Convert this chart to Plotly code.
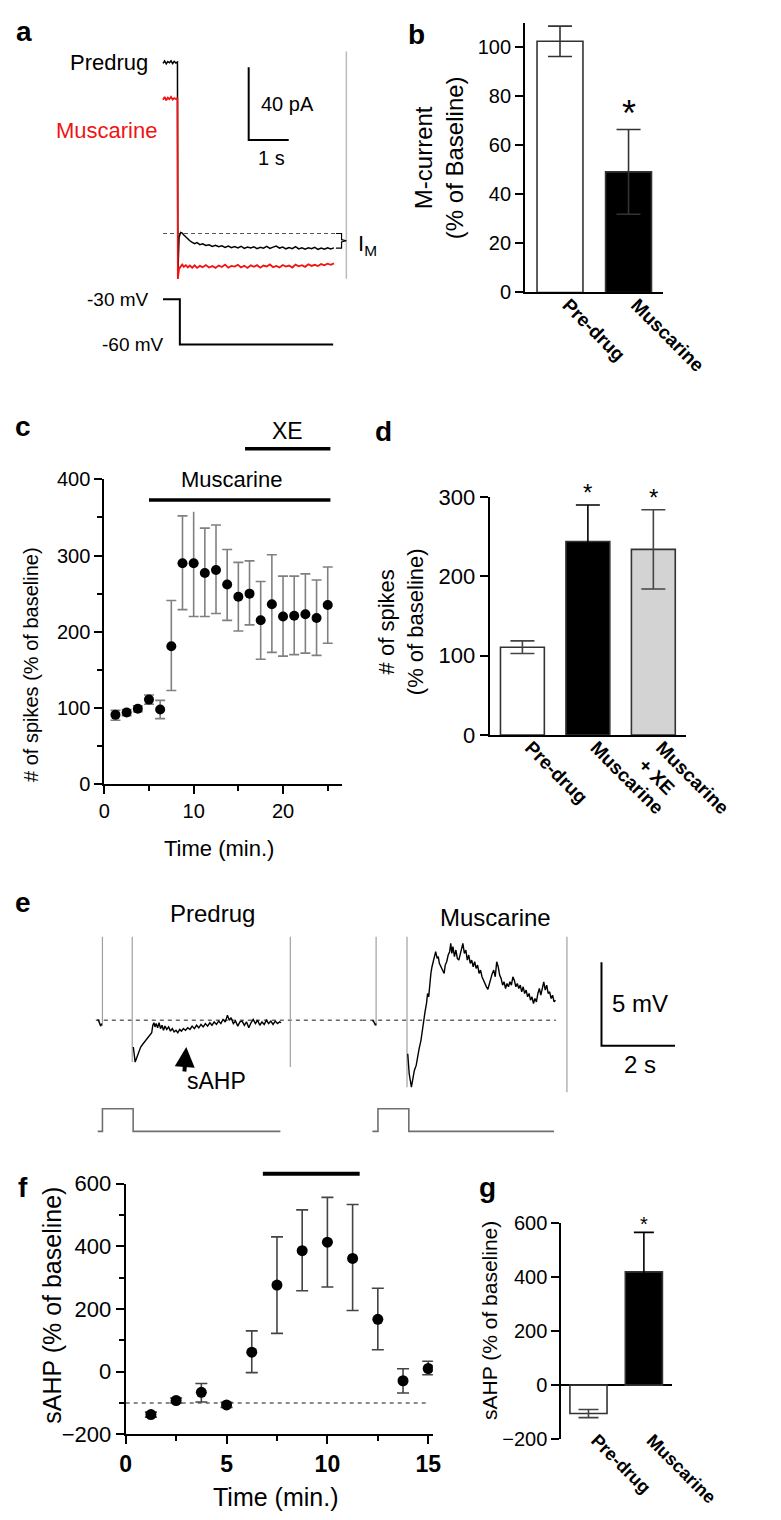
import plotly.graph_objects as go

FONT = "Liberation Sans, Arial, sans-serif"
W, H = 781, 1520

# ---------------- data ----------------
# a: whole-cell current, time (s) from the step to -60 mV, current (pA) relative to the -60 mV baseline
a_time = [-0.37, -0.33, -0.29, -0.25, -0.21, -0.17, -0.13, -0.09, -0.05, -0.01,
          0.0, 0.03, 0.07, 0.11, 0.15, 0.2, 0.25, 0.3, 0.36, 0.42, 0.48, 0.55, 0.62,
          0.7, 0.78, 0.86, 0.94, 1.02, 1.1, 1.18, 1.26, 1.34, 1.42,
          1.5, 1.58, 1.66, 1.74, 1.82, 1.9, 1.98, 2.06, 2.14, 2.22,
          2.3, 2.38, 2.46, 2.54, 2.62, 2.7, 2.78, 2.86, 2.94, 3.02,
          3.1, 3.18, 3.26, 3.34, 3.42, 3.5, 3.58, 3.66, 3.74, 3.82, 3.9]
a_predrug = [93.5, 94.8, 93.2, 94.5, 93.8, 94.9, 93.4, 94.6, 93.7, 94.2,
             -24.0, -2.0, 0.6, 0.2, -0.8, -1.9, -3.2, -4.0, -4.9, -5.6, -5.0, -6.1, -5.7,
             -6.6, -6.2, -7.1, -6.5, -7.3, -6.8, -7.6, -6.9, -7.8, -7.2,
             -7.9, -7.0, -8.2, -7.4, -8.0, -7.3, -8.3, -7.6, -8.1, -7.1,
             -8.2, -7.5, -6.9, -8.0, -7.4, -8.4, -7.7, -8.3, -7.2, -8.5,
             -7.8, -8.6, -7.9, -8.4, -7.6, -8.7, -8.0, -8.6, -7.8, -8.5, -7.9]
a_muscarine = [73.5, 75.0, 73.2, 74.6, 73.8, 75.1, 73.6, 74.4, 73.9, 74.5,
               -25.0, -19.5, -18.2, -17.0, -18.3, -17.4, -18.6, -17.6, -18.8, -17.5, -18.9, -17.8, -18.5,
               -17.3, -18.7, -17.9, -18.9, -17.6, -18.4, -17.1, -18.8, -17.8, -18.2,
               -17.2, -18.6, -17.7, -18.9, -17.5, -18.3, -17.4, -18.8, -17.6, -18.1,
               -17.0, -18.5, -17.8, -18.6, -17.3, -18.2, -17.6, -18.7, -17.1, -18.0,
               -17.4, -18.3, -16.9, -17.8, -17.2, -17.9, -16.8, -17.5, -16.6, -17.2, -16.4]
a_im_pa = 8.0                      # M-current amplitude marked by the bracket
a_marker_t = 4.21                  # grey time marker
a_marker_pa = [100.0, -24.9]
a_vstep_t = [-0.37, 0.05, 0.05, 3.88]
a_vstep_mv = [-30, -30, -60, -60]

# b: M-current
b_groups = ["Pre-drug", "Muscarine"]
b_mean = [102.5, 49.2]
b_sem = [6.2, 17.3]

# c: spikes time course
c_time = [1.25, 2.5, 3.75, 5.0, 6.25, 7.5, 8.75, 10.0, 11.25, 12.5,
          13.75, 15.0, 16.25, 17.5, 18.75, 20.0, 21.25, 22.5, 23.75, 25.0]
c_mean = [91, 94, 99, 111, 98, 181, 290, 290, 277, 281,
          262, 246, 250, 215, 236, 220, 221, 223, 218, 235]
c_err_up = [6, 4, 4, 6, 12, 60, 62, 70, 59, 59, 46, 45, 43, 51, 65, 53, 52, 53, 50, 50]
c_err_down = [7, 4, 4, 6, 12, 58, 61, 70, 57, 57, 47, 45, 41, 51, 63, 52, 51, 51, 49, 50]
c_muscarine_on = [5.0, 25.3]
c_xe_on = [15.75, 25.3]

# d: spikes summary
d_groups = ["Pre-drug", "Muscarine", "Muscarine<br>+ XE"]
d_mean = [110.7, 244, 234]
d_sem = [8, 46, 50]

# e: sAHP traces, time (s) from the current step, membrane potential (mV) from rest
e_pre_t = [-0.13, -0.09, -0.05, -0.02, None,
           0.84, 0.89, 0.94, 0.99, 1.04, 1.09, 1.14, 1.19, 1.24, 1.29, 1.34, 1.37, 1.4, 1.43,
           1.46, 1.5, 1.54, 1.58, 1.62, 1.66, 1.7, 1.75, 1.8, 1.85, 1.9, 1.95, 2.0, 2.05,
           2.1, 2.15, 2.2, 2.26, 2.32, 2.38, 2.44, 2.5, 2.56, 2.62, 2.68, 2.74, 2.8, 2.86,
           2.92, 2.98, 3.04, 3.1, 3.16, 3.22, 3.28, 3.34, 3.4, 3.45, 3.5, 3.56, 3.62, 3.68,
           3.74, 3.8, 3.86, 3.92, 3.98, 4.04, 4.1, 4.16, 4.22, 4.28, 4.34, 4.4, 4.46, 4.52,
           4.58, 4.64, 4.7, 4.76, 4.82, 4.86]
e_pre_mv = [0.05, -0.1, -0.35, -0.2, None,
            -1.6, -2.5, -2.2, -1.9, -1.6, -1.45, -1.3, -1.2, -1.0, -0.9, -0.75, -0.3, -0.15, -0.4,
            -0.2, -0.45, -0.15, -0.5, -0.3, -0.6, -0.35, -0.55, -0.4, -0.65, -0.5, -0.7, -0.6, -0.75,
            -0.55, -0.65, -0.5, -0.6, -0.45, -0.55, -0.35, -0.5, -0.3, -0.45, -0.25, -0.4, -0.2, -0.35,
            -0.15, -0.3, -0.1, -0.25, -0.05, -0.2, 0.05, -0.1, 0.3, 0.0, 0.15, -0.2, -0.05, -0.35,
            -0.1, -0.05, -0.3, -0.1, -0.45, -0.15, 0.05, -0.2, 0.0, -0.3, -0.1, -0.25, 0.0, -0.2,
            -0.05, -0.25, -0.05, -0.2, -0.1, -0.15]
e_mus_t = [-0.1, -0.06, -0.02, 0.0, None,
           0.86, 0.9, 0.96, 1.0, 1.04, 1.09, 1.13, 1.17, 1.22, 1.26, 1.29, 1.33, 1.37, 1.4,
           1.43, 1.46, 1.49, 1.52, 1.55, 1.58, 1.62, 1.66, 1.69, 1.72, 1.76, 1.8, 1.85, 1.88,
           1.92, 1.96, 2.0, 2.03, 2.06, 2.09, 2.13, 2.17, 2.21, 2.25, 2.29, 2.33, 2.36, 2.4,
           2.44, 2.48, 2.52, 2.56, 2.6, 2.64, 2.68, 2.72, 2.76, 2.8, 2.84, 2.88, 2.92, 2.96,
           3.0, 3.04, 3.08, 3.12, 3.16, 3.2, 3.24, 3.28, 3.32, 3.36, 3.4, 3.44, 3.48, 3.52,
           3.56, 3.6, 3.64, 3.68, 3.72, 3.76, 3.8, 3.84, 3.88, 3.92, 3.96, 4.0, 4.04, 4.08,
           4.12, 4.16, 4.2, 4.24, 4.28, 4.32, 4.36, 4.4, 4.44, 4.48, 4.52, 4.56, 4.6, 4.64,
           4.68, 4.72, 4.76, 4.8, 4.84, 4.88]
e_mus_mv = [0.0, -0.1, -0.3, -0.2, None,
            -2.0, -3.2, -4.0, -3.4, -3.0, -2.7, -2.1, -1.7, -1.2, -0.5, 0.0, 0.5, 1.0, 1.6,
            1.4, 2.3, 2.8, 3.2, 3.5, 3.9, 4.1, 3.7, 3.8, 3.4, 3.2, 3.0, 2.8, 3.3,
            3.5, 3.9, 4.1, 4.6, 4.0, 4.4, 3.8, 4.2, 3.7, 3.6, 4.0, 4.3, 4.6, 4.0,
            4.2, 3.6, 3.9, 3.4, 3.6, 3.2, 3.5, 3.1, 3.3, 2.8, 3.0, 2.6, 2.4, 2.1,
            2.0, 1.85, 2.2, 2.4, 2.8, 3.0, 2.6, 3.5, 3.2, 2.7, 2.5, 2.1, 2.3, 1.9,
            2.2, 2.0, 2.3, 2.1, 2.6, 2.4, 2.0, 2.2, 1.9, 2.1, 1.7, 2.0, 1.6, 1.8,
            1.4, 1.6, 1.2, 1.4, 1.0, 1.3, 1.1, 1.6, 1.9, 1.5, 2.0, 2.3, 1.8, 2.1,
            1.6, 1.7, 1.3, 1.5, 1.1, 1.2]
e_pre_artifact_t = [0.0, 0.81, 5.11]
e_pre_artifact_low = [-0.35, -2.5, -2.8]
e_mus_artifact_t = [0.0, 0.84, 5.19]
e_mus_artifact_low = [-0.35, -4.0, -4.3]
e_artifact_high = 5.0
e_pre_stim_t = [-0.13, 0.0, 0.0, 0.835, 0.835, 4.84]
e_mus_stim_t = [-0.1, 0.05, 0.05, 0.89, 0.89, 4.84]
e_stim_lvl = [0, 0, 1, 1, 0, 0]
e_sahp_tip = (2.28, -1.6)          # arrow tip (s, mV)

# f: sAHP time course
f_time = [1.25, 2.5, 3.75, 5.0, 6.25, 7.5, 8.75, 10.0, 11.25, 12.5, 13.75, 15.0]
f_mean = [-137, -92, -66, -106, 62, 276, 386, 413, 361, 167, -29, 10]
f_err_up = [8, 8, 28, 8, 68, 154, 130, 143, 172, 99, 38, 23]
f_err_down = [8, 8, 31, 8, 65, 154, 128, 143, 166, 97, 39, 20]
f_muscarine_on = [6.8, 11.6]
f_baseline = -100

# g: sAHP summary
g_groups = ["Pre-drug", "Muscarine"]
g_mean = [-105, 419]
g_sem = [15, 146]


# ---------------- helpers ----------------
def xdom(a, b):
    return [a / W, b / W]


def ydom(top, bot):
    return [1 - bot / H, 1 - top / H]


AX = dict(showline=True, linecolor="black", linewidth=2, ticks="outside", ticklen=8,
          tickwidth=2, tickcolor="black", showgrid=False, zeroline=False, fixedrange=True,
          tickfont=dict(family=FONT, size=20, color="black"))
HIDDEN = dict(visible=False, fixedrange=True)
MINOR = dict(ticklen=5, tickwidth=2, tickcolor="black", ticks="outside")

layout = dict(width=W, height=H, margin=dict(l=0, r=0, t=0, b=0),
              paper_bgcolor="white", plot_bgcolor="white", showlegend=False,
              font=dict(family=FONT, color="black"))
annotations = []
fig = go.Figure()


def axes(n, xd, yd, xr, yr, xkw, ykw):
    k = "" if n == 1 else str(n)
    layout["xaxis" + k] = dict(domain=xd, range=xr, anchor="y" + k, **xkw)
    layout["yaxis" + k] = dict(domain=yd, range=yr, anchor="x" + k, **ykw)


def ref(n):
    k = "" if n == 1 else str(n)
    return "x" + k, "y" + k


def line(n, x, y, color="black", width=1.5, dash=None):
    xa, ya = ref(n)
    fig.add_trace(go.Scatter(x=x, y=y, mode="lines", xaxis=xa, yaxis=ya, hoverinfo="skip",
                             line=dict(color=color, width=width, dash=dash)))


def text(t, x, y, size, n=None, **kw):
    if n is None:
        d = dict(xref="paper", yref="paper", x=x / W, y=1 - y / H)
    else:
        xa, ya = ref(n)
        d = dict(xref=xa, yref=ya, x=x, y=y)
    d.update(text=t, showarrow=False, xanchor="center", yanchor="middle",
             font=dict(family=FONT, size=size, color=kw.pop("color", "black")))
    d.update(kw)
    annotations.append(d)


def bars(n, mean, sem, colors, errcolors, cap):
    xa, ya = ref(n)
    for i, (m, s) in enumerate(zip(mean, sem)):
        fig.add_trace(go.Bar(x=[i], y=[m], width=0.67, xaxis=xa, yaxis=ya,
                             marker=dict(color=colors[i], line=dict(color="#333", width=1.6)),
                             error_y=dict(type="data", array=[s], color=errcolors[i], thickness=1.6, width=cap),
                             hoverinfo="skip"))


def cat_axis(labels, size):
    return dict(AX, ticks="", tickvals=list(range(len(labels))),
                ticktext=["<b>%s</b>" % g for g in labels], tickangle=45,
                ticklabelstandoff=-8, ticklabelshift=8,
                tickfont=dict(family=FONT, size=size, color="black"))


# ---------------- a ----------------
axes(1, xdom(40, 400), ydom(30, 270), [-3.163, 5.209], [-28.6, 101.1], HIDDEN, HIDDEN)
axes(2, xdom(40, 400), ydom(272, 345), [-3.163, 5.209], [-69.8, -22.2], HIDDEN, HIDDEN)
line(1, [a_time[0], 3.93], [0, 0], color="#555", width=1.2, dash="4px,3px")
line(1, [a_marker_t, a_marker_t], a_marker_pa, color="#bbbbbb", width=1.5)
line(1, a_time, a_predrug, color="black", width=1.5)
line(1, a_time, a_muscarine, color="#f01414", width=1.8)
bx0, bx1 = 3.95, 4.09
line(1, [bx0, bx1, bx1, bx1 + 0.12, bx1, bx1, bx0],
     [0, 0, -a_im_pa / 2 + 0.6, -a_im_pa / 2, -a_im_pa / 2 - 0.6, -a_im_pa, -a_im_pa], width=1.2)
# scale bar 40 pA / 1 s
sb_t, sb_pa = 1.77, 51.4
line(1, [sb_t, sb_t, sb_t + 1], [sb_pa + 40, sb_pa, sb_pa], width=2)
text("40 pA", 2.02, 71.4, 20, n=1, xanchor="left")
text("1 s", 2.35, 41.6, 20, n=1)
text("Predrug", -0.7, 94, 22, n=1, xanchor="right")
text("Muscarine", -1.77, 56.8, 22, n=1, color="#f01414")
text("I<sub>M</sub>", 4.45, -6.5, 22, n=1, xanchor="left")
line(2, a_vstep_t, a_vstep_mv, width=2)
text("-30 mV", -0.67, -30, 19, n=2, xanchor="right")
text("-60 mV", -0.3, -60, 19, n=2, xanchor="right")

# ---------------- b ----------------
axes(3, xdom(549, 697), ydom(3, 277), [-0.51, 1.5], [0, 110],
     cat_axis(b_groups, 19), dict(AX, tickvals=[0, 20, 40, 60, 80, 100]))
bars(3, b_mean, b_sem, ["white", "black"], ["#333", "#333"], 12)
text("*", 1, b_mean[1] + b_sem[1], 36, n=3, yshift=16)
text("M-current<br>(% of Baseline)", 456, 140, 24, textangle=-90)

# ---------------- c ----------------
axes(4, xdom(97, 352), ydom(467, 777), [0, 26.56], [0, 400],
     dict(AX, tickvals=[0, 10, 20], minor=dict(MINOR, tickvals=[5, 15, 25])),
     dict(AX, tickvals=[0, 100, 200, 300, 400], minor=dict(MINOR, tickvals=[50, 150, 250, 350])))
axes(5, xdom(97, 352), ydom(400, 500), [0, 26.56], [0, 1], HIDDEN, HIDDEN)
fig.add_trace(go.Scatter(x=c_time, y=c_mean, mode="markers", xaxis="x4", yaxis="y4", hoverinfo="skip",
                         marker=dict(color="black", size=10),
                         error_y=dict(type="data", array=c_err_up, arrayminus=c_err_down,
                                      color="#808080", thickness=1.6, width=5)))
line(5, c_muscarine_on, [0.12, 0.12], width=3.5)
line(5, c_xe_on, [0.64, 0.64], width=3.5)
text("Muscarine", sum(c_muscarine_on) / 2, 0.12, 22, n=5, yshift=20, xshift=-8)
text("XE", sum(c_xe_on) / 2, 0.64, 23, n=5, yshift=18)
text("# of spikes (% of baseline)", 18, 655, 20, textangle=-90)
text("Time (min.)", 220, 842, 22)

# ---------------- d ----------------
axes(6, xdom(511, 722), ydom(485, 727), [-0.5, 2.5], [0, 300],
     cat_axis(d_groups, 19),
     dict(AX, tickvals=[0, 100, 200, 300], tickfont=dict(family=FONT, size=22, color="black")))
bars(6, d_mean, d_sem, ["white", "black", "#d3d3d3"], ["#444", "black", "#444"], 12)
for i in (1, 2):
    text("*", i, d_mean[i] + d_sem[i], 24, n=6, yshift=12)
text("# of spikes<br>(% of baseline)", 416, 612, 22, textangle=-90)

# ---------------- e ----------------
e_yr = [-4.59, 5.41]
axes(7, xdom(80, 374), ydom(925, 1095), [-0.38, 7.063], e_yr, HIDDEN, HIDDEN)
axes(8, xdom(374, 720), ydom(925, 1095), [-0.38, 8.38], e_yr, HIDDEN, HIDDEN)
axes(9, xdom(80, 374), ydom(1100, 1140), [-0.38, 7.063], [-0.435, 1.304], HIDDEN, HIDDEN)
axes(10, xdom(374, 720), ydom(1100, 1140), [-0.38, 8.38], [-0.435, 1.304], HIDDEN, HIDDEN)
line(7, [-0.18, 7.063], [0, 0], color="#666", width=1.5, dash="4px,4px")
line(8, [-0.38, 4.89], [0, 0], color="#666", width=1.5, dash="4px,4px")
for n, ts, lows in ((7, e_pre_artifact_t, e_pre_artifact_low), (8, e_mus_artifact_t, e_mus_artifact_low)):
    xs, ys = [], []
    for t, lo in zip(ts, lows):
        xs += [t, t, None]
        ys += [e_artifact_high, lo, None]
    line(n, xs, ys, color="#a0a0a0", width=1.2)
line(7, e_pre_t, e_pre_mv, width=1.4)
line(8, e_mus_t, e_mus_mv, width=1.4)
line(9, e_pre_stim_t, e_stim_lvl, color="#707070", width=1.6)
line(10, e_mus_stim_t, e_stim_lvl, color="#707070", width=1.6)
# scale bar 5 mV / 2 s
sb_t, sb_mv = 6.13, -1.53
line(8, [sb_t, sb_t, sb_t + 2], [sb_mv + 5, sb_mv, sb_mv], width=2)
text("5 mV", 7.18, 1.0, 24, n=8)
text("2 s", 7.18, -2.65, 24, n=8)
annotations.append(dict(xref="x7", yref="y7", x=e_sahp_tip[0], y=e_sahp_tip[1], ax=-2, ay=26, text="",
                        showarrow=True, arrowhead=2, arrowwidth=4, arrowsize=1.0, arrowcolor="black"))
text("sAHP", 3.09, -3.62, 23, n=7)
text("Predrug", 213, 908, 24)
text("Muscarine", 517, 913, 24)

# ---------------- f ----------------
axes(11, xdom(120, 450), ydom(1183, 1438), [0, 15.23], [-200, 600],
     dict(AX, tickvals=[0, 5, 10, 15], ticktext=["<b>%d</b>" % v for v in (0, 5, 10, 15)],
          tickfont=dict(family=FONT, size=23, color="black"),
          minor=dict(MINOR, tickvals=[2.5, 7.5, 12.5])),
     dict(AX, tickvals=[-200, 0, 200, 400, 600], tickfont=dict(family=FONT, size=22, color="black"),
          minor=dict(MINOR, tickvals=[-100, 100, 300, 500])))
axes(12, xdom(120, 450), ydom(1163, 1183), [0, 15.23], [0, 1], HIDDEN, HIDDEN)
line(11, [0, 15], [f_baseline, f_baseline], color="#666", width=1.5, dash="4px,4px")
fig.add_trace(go.Scatter(x=f_time, y=f_mean, mode="markers", xaxis="x11", yaxis="y11", hoverinfo="skip",
                         marker=dict(color="black", size=11),
                         error_y=dict(type="data", array=f_err_up, arrayminus=f_err_down,
                                      color="#444", thickness=1.6, width=6)))
line(12, f_muscarine_on, [0.5, 0.5], width=4)
text("sAHP (% of baseline)", 40, 1307, 25, textangle=-90)
text("Time (min.)", 281, 1502, 25)

# ---------------- g ----------------
axes(13, xdom(588, 707), ydom(1223, 1443), [-0.49, 1.51], [-200, 600],
     dict(cat_axis(g_groups, 18), showline=False, ticklabelstandoff=-14),
     dict(AX, tickvals=[-200, 0, 200, 400, 600], zeroline=True, zerolinecolor="black", zerolinewidth=2))
bars(13, g_mean, g_sem, ["white", "black"], ["#444", "black"], 10)
text("*", 1, g_mean[1] + g_sem[1], 20, n=13, yshift=8)
text("sAHP (% of baseline)", 511, 1322, 21, textangle=-90)

# ---------------- panel letters ----------------
for lab, x, y in (("a", 11, 12), ("b", 432, 15), ("c", 10, 413), ("d", 397, 418),
                  ("e", 10, 897), ("f", 10, 1187), ("g", 509, 1187)):
    text("<b>%s</b>" % lab, x, y, 28)

layout["annotations"] = annotations
fig.update_layout(**layout)
fig.write_html("out.html")
